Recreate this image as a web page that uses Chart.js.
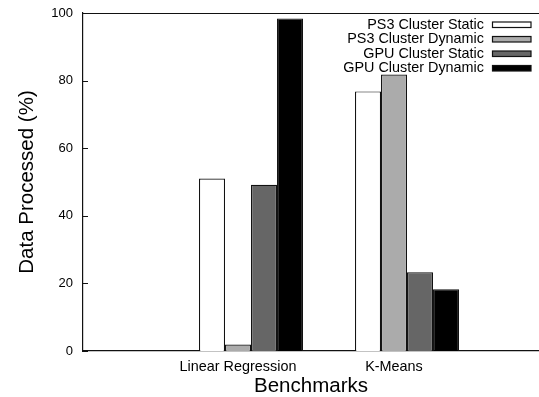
<!DOCTYPE html>
<html>
<head>
<meta charset="utf-8">
<script src="https://cdn.jsdelivr.net/npm/chart.js@4/dist/chart.umd.min.js"></script>
<style>
  html, body { margin: 0; padding: 0; background: #fff; }
  #wrap { width: 539px; height: 397px; position: relative; }
</style>
</head>
<body>
<div id="wrap"><canvas id="c" width="539" height="397"></canvas></div>
<script>
// Benchmarks on the x axis
const categories = ['Linear Regression', 'K-Means'];

// Share of the data processed (%) by each configuration
const ps3Static  = [51.0, 76.8];
const ps3Dynamic = [1.9, 81.8];
const gpuStatic  = [49.2, 23.3];
const gpuDynamic = [98.4, 18.3];

const seriesNames = ['PS3 Cluster Static', 'PS3 Cluster Dynamic', 'GPU Cluster Static', 'GPU Cluster Dynamic'];
const yTicks = [0, 20, 40, 60, 80, 100];

// Each cluster is 6 bar-widths wide (4 bars + a gap of 2); labels sit at the second bar
const BAR_FRAC = 1 / 6;
const tickPositions = categories.map((_, i) => i - BAR_FRAC / 2);

const FONT = "'Liberation Sans', Arial, Helvetica, sans-serif";
const INK = '#111';

const fills = ['#ffffff', '#ababab', '#666666', '#000000'];
const seriesValues = [ps3Static, ps3Dynamic, gpuStatic, gpuDynamic];

const datasets = seriesNames.map((name, k) => ({
  label: name,
  data: seriesValues[k].map((v, i) => ({ x: i, y: v })),
  backgroundColor: fills[k],
  borderColor: INK,
  borderWidth: 1.2,
  categoryPercentage: 4 * BAR_FRAC,
  barPercentage: 1.0
}));

// Frame line on top, inward y tick marks and the key in the top-right corner
const framePlugin = {
  id: 'frameAndKey',
  afterDraw(chart) {
    const { ctx, chartArea: a, scales } = chart;
    ctx.save();
    ctx.strokeStyle = INK;
    ctx.lineWidth = 1.2;
    ctx.beginPath();
    ctx.moveTo(a.left, a.top + 0.5);
    ctx.lineTo(a.right, a.top + 0.5);
    ctx.stroke();

    ctx.lineWidth = 1;
    yTicks.forEach(v => {
      const y = Math.round(scales.y.getPixelForValue(v)) + 0.5;
      ctx.beginPath();
      ctx.moveTo(a.left, y);
      ctx.lineTo(a.left + 5, y);
      ctx.stroke();
    });

    // key
    ctx.font = '14.4px ' + FONT;
    ctx.textAlign = 'right';
    ctx.textBaseline = 'middle';
    chart.data.datasets.forEach((ds, k) => {
      const cy = 24.5 + k * 14.5;
      ctx.fillStyle = '#000';
      ctx.fillText(ds.label, 484, cy + 0.5);
      ctx.fillStyle = ds.backgroundColor;
      ctx.fillRect(492.5, cy - 2.5, 38.5, 5.5);
      ctx.strokeStyle = INK;
      ctx.lineWidth = 1.2;
      ctx.strokeRect(492.5, cy - 2.5, 38.5, 5.5);
    });
    ctx.restore();
  }
};

new Chart(document.getElementById('c'), {
  type: 'bar',
  data: { datasets },
  options: {
    responsive: false,
    animation: false,
    devicePixelRatio: 1,
    layout: { padding: { top: 13, left: 0, right: 0, bottom: 0 } },
    plugins: { legend: { display: false }, tooltip: { enabled: false } },
    scales: {
      x: {
        type: 'linear',
        min: -1.077,
        max: 1.846,
        offset: false,
        grid: { display: false, drawTicks: false },
        border: { display: true, color: INK, width: 1.2 },
        afterBuildTicks: scale => { scale.ticks = tickPositions.map(v => ({ value: v })); },
        afterFit: scale => { scale.height = 46; },
        ticks: {
          autoSkip: false,
          maxRotation: 0,
          padding: 7,
          color: '#000',
          font: { family: FONT, size: 14.4 },
          callback: (value, index) => categories[index]
        },
        title: {
          display: true,
          text: 'Benchmarks',
          color: '#000',
          font: { family: FONT, size: 20.5, lineHeight: 1 },
          padding: { top: 0, bottom: 0 }
        }
      },
      y: {
        min: 0,
        max: 100,
        grid: { display: false, drawTicks: false },
        border: { display: true, color: INK, width: 1.2 },
        afterBuildTicks: scale => { scale.ticks = yTicks.map(v => ({ value: v })); },
        afterFit: scale => {
          scale.width = 83;
          // tick labels may overhang the plot vertically; keep the frame at the padding edge
          scale.paddingTop = 0;
          scale.paddingBottom = 0;
        },
        ticks: {
          padding: 10,
          color: '#000',
          font: { family: FONT, size: 13 }
        },
        title: {
          display: true,
          text: 'Data Processed (%)',
          color: '#000',
          font: { family: FONT, size: 20.5, lineHeight: 1 },
          padding: { top: 17, bottom: 0 }
        }
      }
    }
  },
  plugins: [framePlugin]
});
</script>
</body>
</html>
